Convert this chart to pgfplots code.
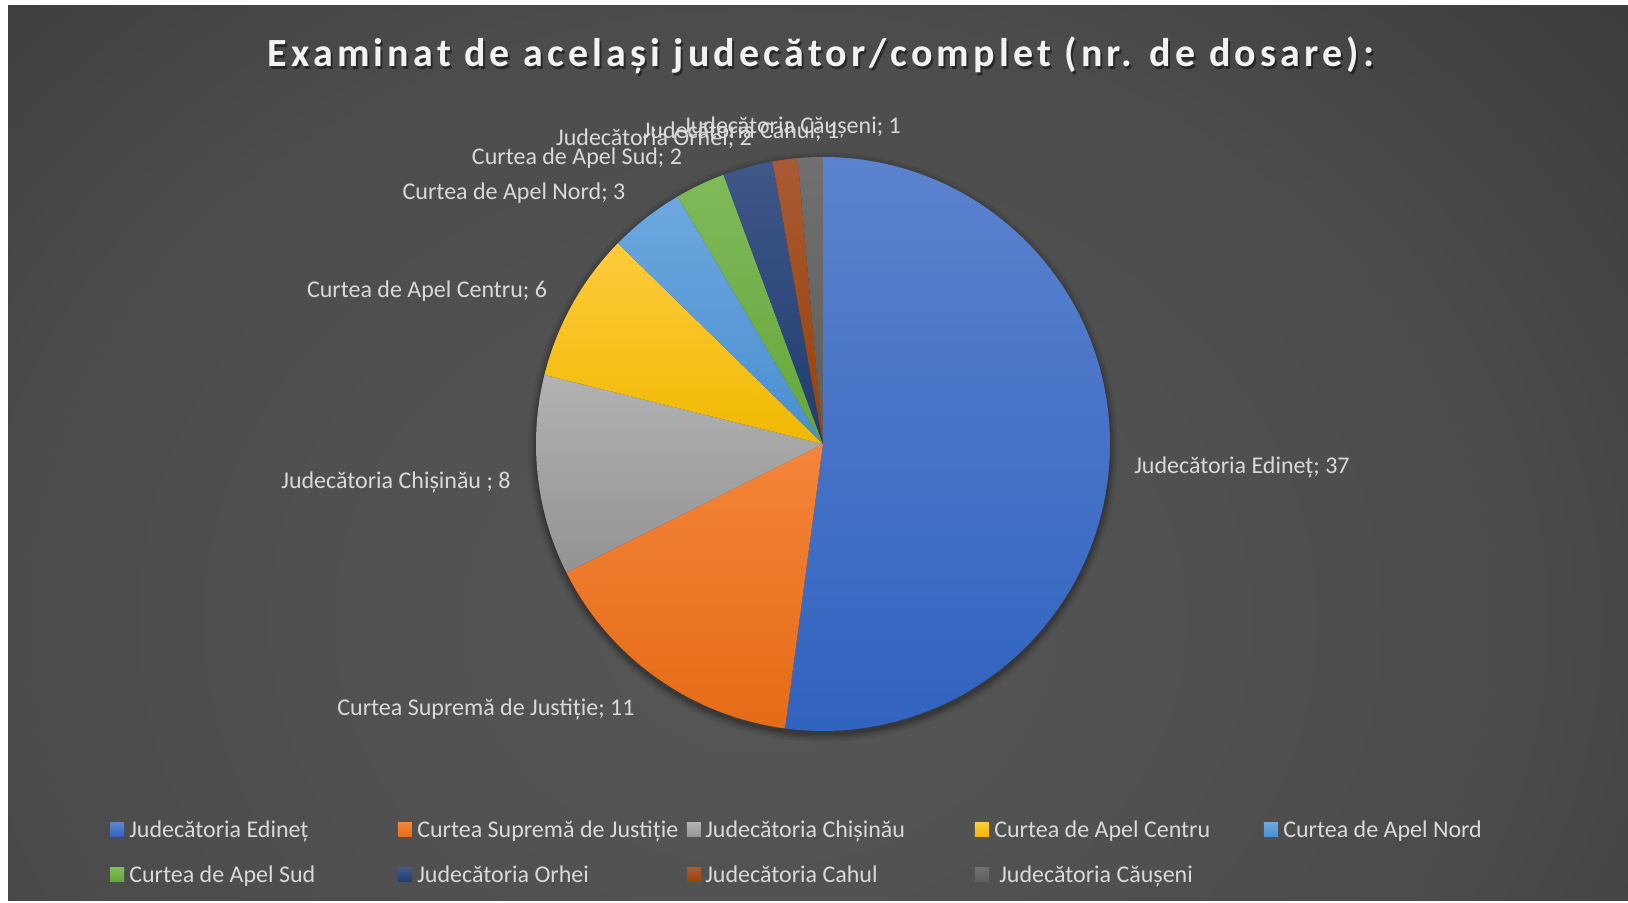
\documentclass[border=0pt]{standalone}
\usepackage{pgfplots}
\pgfplotsset{compat=1.18}
\usepackage{pgfplotstable}
\usepackage{fontspec}
\setmainfont{Carlito}
\newfontfamily\titlefont[LetterSpace=10.5]{Carlito}

\definecolor{bg0}{HTML}{575757}
\definecolor{bg1}{HTML}{4C4C4C}
\definecolor{bg2}{HTML}{383838}
\definecolor{bg3}{HTML}{262626}
\pgfdeclareradialshading{bgshade}{\pgfpoint{0bp}{0bp}}{color(0bp)=(bg0); color(20bp)=(bg1); color(35bp)=(bg2); color(50bp)=(bg3)}

\definecolor{c0t}{HTML}{5B82CE}\definecolor{c0b}{HTML}{3063BF}
\definecolor{c1t}{HTML}{F5853A}\definecolor{c1b}{HTML}{E56B16}
\definecolor{c2t}{HTML}{B2B2B2}\definecolor{c2b}{HTML}{939393}
\definecolor{c3t}{HTML}{FFCB3D}\definecolor{c3b}{HTML}{EFB900}
\definecolor{c4t}{HTML}{6DA8DF}\definecolor{c4b}{HTML}{4A8ED0}
\definecolor{c5t}{HTML}{80BA5A}\definecolor{c5b}{HTML}{66A63B}
\definecolor{c6t}{HTML}{405788}\definecolor{c6b}{HTML}{1F3C70}
\definecolor{c7t}{HTML}{A85A35}\definecolor{c7b}{HTML}{9A4206}
\definecolor{c8t}{HTML}{707070}\definecolor{c8b}{HTML}{5D5D5D}
\definecolor{lbl}{HTML}{D9D9D9}
\definecolor{ttl}{HTML}{F2F2F2}

\pgfplotstableread[col sep=comma]{
idx,value
0,37
1,11
2,8
3,6
4,3
5,2
6,2
7,1
8,1
}\piedata

\pgfplotstablegetrowsof{\piedata}
\pgfmathtruncatemacro\nlast{\pgfplotsretval-1}
\def\total{0}
\pgfplotsforeachungrouped \i in {0,...,\nlast}{%
  \pgfplotstablegetelem{\i}{value}\of\piedata
  \pgfmathsetmacro\total{\total+\pgfplotsretval}}
\def\pieR{215.25pt}

\begin{document}
\begin{tikzpicture}
\begin{scope}[x=0.75pt,y=0.75pt]
  \fill[white] (0,0) rectangle (1628,903);
  \begin{scope}
    \clip (8,2) rectangle (1628,897);
    \shade[shading=bgshade,overlay] (-140,-467) rectangle (1660,1033);
  \end{scope}
\end{scope}
\begin{axis}[at={(0,0)},anchor=south west,
  width=1221pt,height=677.25pt,scale only axis,hide axis,
  xmin=0,xmax=1628,ymin=0,ymax=903,clip=false]
\addplot[draw=none] coordinates {(823,459)};
% shadow
\fill[black,opacity=0.07] (axis cs:823,456) circle[radius=221pt];
\fill[black,opacity=0.08] (axis cs:823,456) circle[radius=219pt];
\fill[black,opacity=0.09] (axis cs:823,456) circle[radius=217.5pt];
\fill[black,opacity=0.12] (axis cs:823,456) circle[radius=216.25pt];
% slices
\def\astart{90}
\pgfplotsforeachungrouped \i in {0,...,\nlast}{%
  \pgfplotstablegetelem{\i}{value}\of\piedata
  \pgfmathsetmacro\aend{\astart-360*\pgfplotsretval/\total}%
  \edef\slicecmd{\noexpand\shade[top color=c\i t,bottom color=c\i b] (axis cs:823,459) -- ++(\astart:\pieR) arc[start angle=\astart,end angle=\aend,radius=\pieR] -- cycle;}%
  \slicecmd
  \global\let\astart\aend
}
% data labels
\tikzset{lab/.style={text=lbl,inner sep=0pt,font=\fontsize{18}{21}\selectfont}}
\node[lab,anchor=base west] at (axis cs:1134,429.5) {Judecătoria Edineț; 37};
\node[lab,anchor=base] at (axis cs:486,187.5) {Curtea Supremă de Justiție; 11};
\node[lab,anchor=base] at (axis cs:396,414.5) {Judecătoria Chișinău ; 8};
\node[lab,anchor=base] at (axis cs:427,605.5) {Curtea de Apel Centru; 6};
\node[lab,anchor=base] at (axis cs:514,703.5) {Curtea de Apel Nord; 3};
\node[lab,anchor=base] at (axis cs:577,738.5) {Curtea de Apel Sud; 2};
\node[lab,anchor=base] at (axis cs:654,757.5) {Judecătoria Orhei; 2};
\node[lab,anchor=base] at (axis cs:741,764.5) {Judecătoria Cahul; 1};
\node[lab,anchor=base] at (axis cs:792,769.5) {Judecătoria Căușeni; 1};
% title
\node[anchor=base,inner sep=0pt,text=black,opacity=0.45,font=\titlefont\bfseries\fontsize{30}{35}\selectfont] at (axis cs:823,833.5) {Examinat de același judecător/complet (nr. de dosare):};
\node[anchor=base,inner sep=0pt,text=ttl,font=\titlefont\bfseries\fontsize{30}{35}\selectfont] at (axis cs:821,836) {Examinat de același judecător/complet (nr. de dosare):};
% legend
\shade[top color=c0t,bottom color=c0b] (axis cs:110,66) rectangle (axis cs:124,80);
\node[lab,anchor=base west] at (axis cs:129,65.5) {Judecătoria Edineț};
\shade[top color=c1t,bottom color=c1b] (axis cs:398,66) rectangle (axis cs:412,80);
\node[lab,anchor=base west] at (axis cs:417,65.5) {Curtea Supremă de Justiție};
\shade[top color=c2t,bottom color=c2b] (axis cs:687,66) rectangle (axis cs:701,80);
\node[lab,anchor=base west] at (axis cs:705,65.5) {Judecătoria Chișinău};
\shade[top color=c3t,bottom color=c3b] (axis cs:975,66) rectangle (axis cs:989,80);
\node[lab,anchor=base west] at (axis cs:994,65.5) {Curtea de Apel Centru};
\shade[top color=c4t,bottom color=c4b] (axis cs:1264,66) rectangle (axis cs:1278,80);
\node[lab,anchor=base west] at (axis cs:1283,65.5) {Curtea de Apel Nord};
\shade[top color=c5t,bottom color=c5b] (axis cs:110,21) rectangle (axis cs:124,35);
\node[lab,anchor=base west] at (axis cs:129,20.5) {Curtea de Apel Sud};
\shade[top color=c6t,bottom color=c6b] (axis cs:398,21) rectangle (axis cs:412,35);
\node[lab,anchor=base west] at (axis cs:417,20.5) {Judecătoria Orhei};
\shade[top color=c7t,bottom color=c7b] (axis cs:687,21) rectangle (axis cs:701,35);
\node[lab,anchor=base west] at (axis cs:705,20.5) {Judecătoria Cahul};
\shade[top color=c8t,bottom color=c8b] (axis cs:975,21) rectangle (axis cs:989,35);
\node[lab,anchor=base west] at (axis cs:999,20.5) {Judecătoria Căușeni};
\end{axis}
\end{tikzpicture}
\end{document}
